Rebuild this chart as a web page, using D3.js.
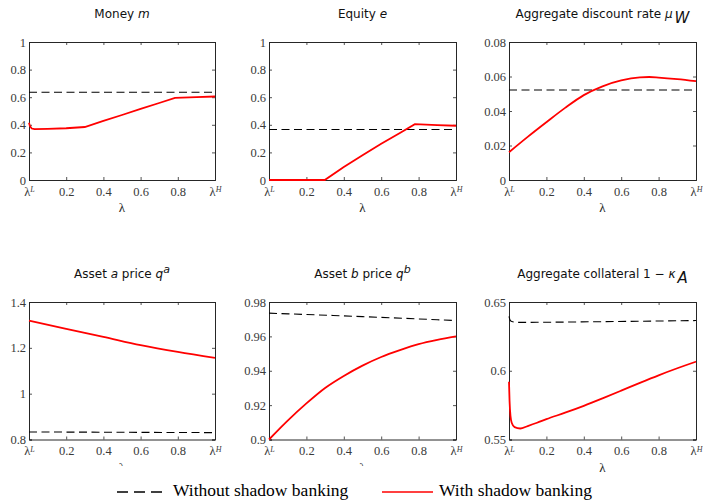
<!DOCTYPE html>
<html><head><meta charset="utf-8">
<script src="https://cdn.jsdelivr.net/npm/d3@7"></script>
<style>body{margin:0;background:#fff;} svg{display:block;}</style>
</head><body><svg id="chart" width="703" height="500"></svg>
<script>
// ---- data ----
const lambdaTicks = [0, 0.2, 0.4, 0.6, 0.8, 1];
const lambdaTickLabels = ["λL", "0.2", "0.4", "0.6", "0.8", "λH"];

const moneyTicks = [0, 0.2, 0.4, 0.6, 0.8, 1];
const moneyWithout = [[0, 0.636], [1, 0.636]];
const moneyWith = [[0, 0.415], [0.005, 0.39], [0.015, 0.373], [0.03, 0.368], [0.1, 0.370], [0.2, 0.375], [0.3, 0.384], [0.4, 0.428], [0.5, 0.471], [0.6, 0.515], [0.7, 0.558], [0.785, 0.595], [0.9, 0.600], [1, 0.605]];

const equityTicks = [0, 0.2, 0.4, 0.6, 0.8, 1];
const equityWithout = [[0, 0.366], [1, 0.366]];
const equityWith = [[0, 0], [0.298, 0], [0.4, 0.095], [0.5, 0.18], [0.6, 0.262], [0.7, 0.34], [0.78, 0.405], [0.9, 0.398], [1, 0.393]];

const discountTicks = [0, 0.02, 0.04, 0.06, 0.08];
const discountWithout = [[0, 0.0522], [1, 0.0522]];
const discountWith = [[0, 0.0161], [0.1, 0.025], [0.2, 0.0335], [0.3, 0.0418], [0.4, 0.0492], [0.5, 0.0543], [0.6, 0.0577], [0.7, 0.0595], [0.75, 0.0597], [0.8, 0.0594], [0.9, 0.0585], [1, 0.0573]];

const priceATicks = [0.8, 1, 1.2, 1.4];
const priceAWithout = [[0, 0.833], [1, 0.830]];
const priceAWith = [[0, 1.319], [0.2, 1.283], [0.4, 1.248], [0.6, 1.212], [0.8, 1.182], [1, 1.156]];

const priceBTicks = [0.9, 0.92, 0.94, 0.96, 0.98];
const priceBWithout = [[0, 0.9735], [0.5, 0.9715], [1, 0.9692]];
const priceBWith = [[0, 0.900], [0.1, 0.911], [0.2, 0.921], [0.3, 0.930], [0.4, 0.937], [0.5, 0.943], [0.6, 0.948], [0.7, 0.952], [0.8, 0.9555], [0.9, 0.958], [1, 0.960]];

const collateralTicks = [0.55, 0.6, 0.65];
const collateralWithout = [[0, 0.6395], [0.005, 0.637], [0.015, 0.6358], [0.05, 0.6352], [0.5, 0.6357], [1, 0.6365]];
const collateralWith = [[0, 0.592], [0.003, 0.578], [0.008, 0.567], [0.015, 0.562], [0.03, 0.559], [0.06, 0.558], [0.1, 0.5598], [0.15, 0.5622], [0.2, 0.5648], [0.3, 0.5695], [0.4, 0.5745], [0.5, 0.5799], [0.6, 0.5855], [0.7, 0.5912], [0.8, 0.5967], [0.9, 0.6018], [1, 0.6066]];

const legendLabels = ["Without shadow banking", "With shadow banking"];

// ---- layout ----
const svg = d3.select("#chart");
const axisColor = "#262626";
const serif = "'Liberation Serif','DejaVu Serif',serif";
const sans = "'DejaVu Sans','Liberation Sans',sans-serif";

const cols = [[29, 215], [269, 456], [509, 696]];
const rows = [[42, 180], [302, 439.5]];

const panels = [
  {col: 0, row: 0, title: [["Money ", ""], ["m", "i"]], domain: [0, 1], ticks: moneyTicks, without: moneyWithout, withSB: moneyWith, curve: d3.curveLinear},
  {col: 1, row: 0, title: [["Equity ", ""], ["e", "i"]], domain: [0, 1], ticks: equityTicks, without: equityWithout, withSB: equityWith, curve: d3.curveLinear},
  {col: 2, row: 0, title: [["Aggregate discount rate ", ""], ["μ", "i"], ["W", "sub"]], domain: [0, 0.08], ticks: discountTicks, without: discountWithout, withSB: discountWith, curve: d3.curveMonotoneX},
  {col: 0, row: 1, title: [["Asset ", ""], ["a", "i"], [" price ", ""], ["q", "i"], ["a", "sup"]], domain: [0.8, 1.4], ticks: priceATicks, without: priceAWithout, withSB: priceAWith, curve: d3.curveMonotoneX},
  {col: 1, row: 1, title: [["Asset ", ""], ["b", "i"], [" price ", ""], ["q", "i"], ["b", "sup"]], domain: [0.9, 0.98], ticks: priceBTicks, without: priceBWithout, withSB: priceBWith, curve: d3.curveMonotoneX},
  {col: 2, row: 1, title: [["Aggregate collateral 1 − ", ""], ["κ", "i"], ["A", "sub"]], domain: [0.55, 0.65], ticks: collateralTicks, without: collateralWithout, withSB: collateralWith, curve: d3.curveMonotoneX}
];

function lambdaLabel(sel) {
  sel.each(function(d) {
    const t = d3.select(this);
    const lab = lambdaTickLabels[lambdaTicks.indexOf(d)];
    if (lab.startsWith("λ")) {
      t.text(null);
      t.append("tspan").text("λ");
      t.append("tspan").attr("dy", "-0.45em").attr("font-size", "8px").attr("font-style", "italic").text(lab.slice(1));
    }
  });
}

panels.forEach(p => {
  const [x0, x1] = cols[p.col];
  const [y0, y1] = rows[p.row];
  const x = d3.scaleLinear().domain([0, 1]).range([x0, x1]);
  const y = d3.scaleLinear().domain(p.domain).range([y1, y0]);
  const g = svg.append("g");

  const fmt = d => String(+d.toFixed(3));

  const gb = g.append("g").attr("transform", `translate(0,${y1})`)
    .call(d3.axisBottom(x).tickValues(lambdaTicks).tickFormat(d => lambdaTickLabels[lambdaTicks.indexOf(d)]).tickSize(-3).tickPadding(7));
  gb.selectAll("text").call(lambdaLabel);
  g.append("g").attr("transform", `translate(0,${y0})`)
    .call(d3.axisTop(x).tickValues(lambdaTicks).tickFormat("").tickSize(-3));
  g.append("g").attr("transform", `translate(${x0},0)`)
    .call(d3.axisLeft(y).tickValues(p.ticks).tickFormat(fmt).tickSize(-3).tickPadding(3));
  g.append("g").attr("transform", `translate(${x1},0)`)
    .call(d3.axisRight(y).tickValues(p.ticks).tickFormat("").tickSize(-3));

  g.selectAll("g").attr("font-family", serif);
  g.selectAll(".domain").attr("stroke", axisColor).attr("stroke-width", 1);
  g.selectAll(".tick line").attr("stroke", axisColor).attr("stroke-width", 0.8);
  g.selectAll(".tick text").attr("fill", "#3a3a3a").attr("font-family", serif).attr("font-size", "12.5px");

  g.append("text").attr("x", (x0 + x1) / 2).attr("y", y1 + 32).attr("text-anchor", "middle")
    .attr("font-family", serif).attr("font-size", "13px").attr("fill", axisColor).text("λ");

  const tt = g.append("text").attr("x", (x0 + x1) / 2).attr("y", y0 - 24).attr("text-anchor", "middle")
    .attr("font-family", sans).attr("font-size", "12px").attr("fill", "#111");
  p.title.forEach(([s, kind]) => {
    const ts = tt.append("tspan").text(s);
    if (kind === "i") ts.attr("font-style", "italic");
    if (kind === "sub") ts.attr("font-style", "italic").attr("dx", "2").attr("dy", "0.35em").attr("font-size", "15px");
    if (kind === "sup") ts.attr("font-style", "italic").attr("dy", "-0.5em").attr("font-size", "11px");
  });

  const line = d3.line().x(d => x(d[0])).y(d => y(d[1]));
  g.append("path").datum(p.without).attr("fill", "none").attr("stroke", "#000").attr("stroke-width", 1.1)
    .attr("stroke-dasharray", "8,4.5").attr("d", line.curve(d3.curveMonotoneX));
  g.append("path").datum(p.withSB).attr("fill", "none").attr("stroke", "#ff0000").attr("stroke-width", 1.8)
    .attr("d", line.curve(p.curve));
});

// legend box (covers part of the lower x labels, as in the original)
const lg = svg.append("g");
lg.append("rect").attr("x", 100).attr("y", 466).attr("width", 497).attr("height", 34).attr("fill", "#fff");
lg.append("line").attr("x1", 117).attr("x2", 162).attr("y1", 492).attr("y2", 492)
  .attr("stroke", "#000").attr("stroke-width", 1.6).attr("stroke-dasharray", "11,6");
lg.append("text").attr("x", 173).attr("y", 495.5).attr("font-family", serif).attr("font-size", "17.5px").attr("fill", "#000").text(legendLabels[0]);
lg.append("line").attr("x1", 382).attr("x2", 433).attr("y1", 492).attr("y2", 492)
  .attr("stroke", "#ff0000").attr("stroke-width", 1.6);
lg.append("text").attr("x", 439).attr("y", 495.5).attr("font-family", serif).attr("font-size", "17.5px").attr("fill", "#000").text(legendLabels[1]);
</script></body></html>
